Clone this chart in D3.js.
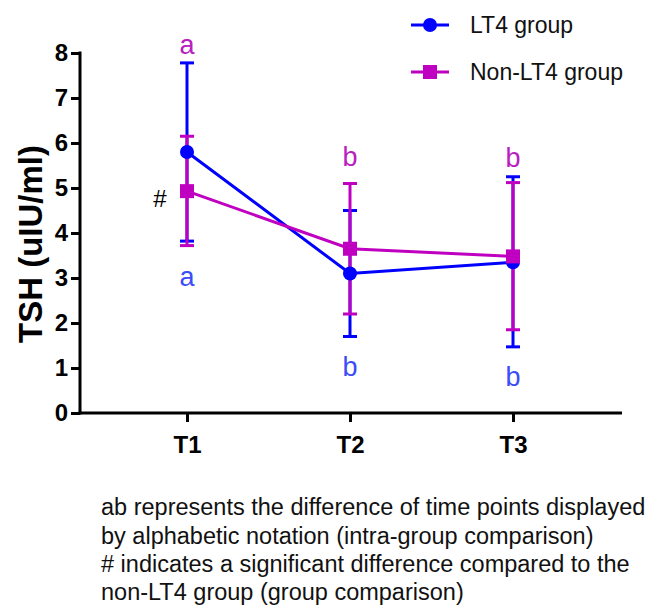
<!DOCTYPE html>
<html><head><meta charset="utf-8">
<script src="https://cdn.jsdelivr.net/npm/d3@7"></script>
<style>body{margin:0;background:#fff}</style>
</head><body>
<svg id="c" width="650" height="607"></svg>
<script>
const categories = ["T1","T2","T3"];
const lt4Mean = [5.8, 3.1, 3.35];
const lt4Upper = [7.78, 4.5, 5.25];
const lt4Lower = [3.82, 1.7, 1.47];
const nonMean = [4.93, 3.65, 3.48];
const nonUpper = [6.15, 5.1, 5.12];
const nonLower = [3.72, 2.2, 1.85];
const yTicks = [0,1,2,3,4,5,6,7,8];
const lettersNon = ["a","b","b"];
const lettersLt4 = ["a","b","b"];
const seriesNames = ["LT4 group","Non-LT4 group"];
const footnote = [
 "ab represents the difference of time points displayed",
 "by alphabetic notation (intra-group comparison)",
 "# indicates a significant difference compared to the",
 "non-LT4 group (group comparison)"
];

const BLUE = "#0000ff", MAG = "#c000c0", BLUE_T = "#3b4cf8", MAG_T = "#b820c0";
const svg = d3.select("#c");
const font = "Liberation Sans, Arial, sans-serif";

const y = d3.scaleLinear().domain([0,8]).range([413,53]);
const x = d3.scalePoint().domain(categories).range([187,513]);

// axes
const yAx = svg.append("g").attr("transform","translate(80,0)")
  .call(d3.axisLeft(y).tickValues(yTicks).tickSize(9).tickSizeOuter(0).tickPadding(3));
yAx.select(".domain").attr("stroke","#000").attr("stroke-width",3).attr("d","M0,"+(y(8)-1.5)+"V"+(y(0)+1.5));
yAx.selectAll(".tick line").attr("stroke","#000").attr("stroke-width",3);
yAx.selectAll(".tick text").attr("font-family",font).attr("font-weight","bold").attr("font-size",24).attr("fill","#000");

const xAx = svg.append("g").attr("transform","translate(0,413)")
  .call(d3.axisBottom(x).tickSize(9).tickSizeOuter(0).tickPadding(14));
xAx.select(".domain").attr("stroke","#000").attr("stroke-width",3).attr("d","M78.5,0H622");
xAx.selectAll(".tick line").attr("stroke","#000").attr("stroke-width",3);
xAx.selectAll(".tick text").attr("font-family",font).attr("font-weight","bold").attr("font-size",24).attr("fill","#000");

svg.append("text").attr("transform","translate(30,244) rotate(-90)")
  .attr("text-anchor","middle").attr("dy","0.35em").attr("font-family",font).attr("font-weight","bold")
  .attr("font-size",33).text("TSH (uIU/ml)");

function errBars(up, lo, color){
  const g = svg.append("g").attr("stroke",color).attr("stroke-width",3);
  categories.forEach((c,i)=>{
    const cx = x(c);
    g.append("line").attr("x1",cx).attr("x2",cx).attr("y1",y(up[i])).attr("y2",y(lo[i]));
    [up[i],lo[i]].forEach(v=>g.append("line").attr("x1",cx-7).attr("x2",cx+7).attr("y1",y(v)).attr("y2",y(v)));
  });
}
errBars(lt4Upper, lt4Lower, BLUE);
errBars(nonUpper, nonLower, MAG);

const line = d3.line().x((d,i)=>x(categories[i])).y(d=>y(d));
svg.append("path").datum(lt4Mean).attr("d",line).attr("fill","none").attr("stroke",BLUE).attr("stroke-width",3);
svg.append("path").datum(nonMean).attr("d",line).attr("fill","none").attr("stroke",MAG).attr("stroke-width",3);

svg.append("g").selectAll("circle").data(lt4Mean).join("circle")
  .attr("cx",(d,i)=>x(categories[i])).attr("cy",d=>y(d)).attr("r",7).attr("fill",BLUE);
svg.append("g").selectAll("rect").data(nonMean).join("rect")
  .attr("x",(d,i)=>x(categories[i])-7).attr("y",d=>y(d)-7).attr("width",14).attr("height",14).attr("fill",MAG);

// letters
const letterY = {non:[45,157,158], lt4:[277,367,377]};
categories.forEach((c,i)=>{
  svg.append("text").attr("x",x(c)).attr("y",letterY.non[i]).attr("dy","0.35em").attr("text-anchor","middle")
    .attr("font-family",font).attr("font-size",27).attr("fill",MAG_T).text(lettersNon[i]);
  svg.append("text").attr("x",x(c)).attr("y",letterY.lt4[i]).attr("dy","0.35em").attr("text-anchor","middle")
    .attr("font-family",font).attr("font-size",27).attr("fill",BLUE_T).text(lettersLt4[i]);
});
svg.append("text").attr("x",160).attr("y",199).attr("dy","0.35em").attr("text-anchor","middle")
  .attr("font-family",font).attr("font-size",24).attr("fill","#000").text("#");

// legend
const leg = [{c:BLUE,shape:"circle"},{c:MAG,shape:"rect"}];
leg.forEach((l,i)=>{
  const ly = 25 + i*47;
  svg.append("line").attr("x1",411).attr("x2",449).attr("y1",ly).attr("y2",ly).attr("stroke",l.c).attr("stroke-width",3);
  if(l.shape==="circle") svg.append("circle").attr("cx",430).attr("cy",ly).attr("r",7).attr("fill",l.c);
  else svg.append("rect").attr("x",423).attr("y",ly-7).attr("width",14).attr("height",14).attr("fill",l.c);
  svg.append("text").attr("x",470).attr("y",ly).attr("dy","0.35em").attr("font-family",font)
    .attr("font-size",23).attr("fill","#111").text(seriesNames[i]);
});

// footnote
footnote.forEach((t,i)=>{
  svg.append("text").attr("x",101).attr("y",507+i*28.3).attr("dy","0.35em").attr("font-family",font)
    .attr("font-size",23.5).attr("fill","#111").text(t);
});
</script>
</body></html>
